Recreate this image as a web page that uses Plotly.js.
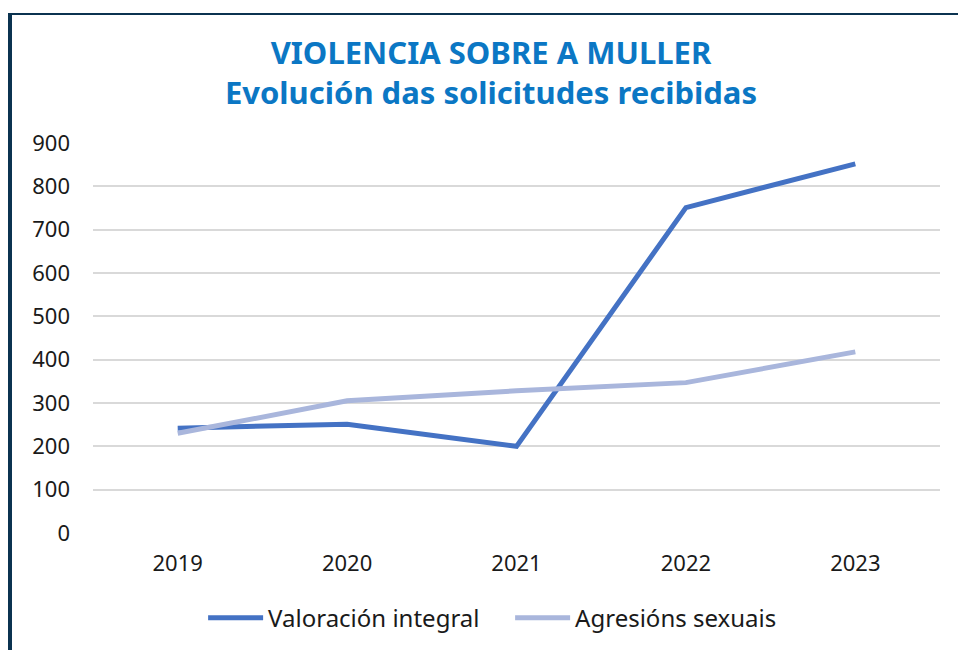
<!DOCTYPE html>
<html>
<head>
<meta charset="utf-8">
<script src="https://cdn.plot.ly/plotly-3.0.1.min.js"></script>
<style>
  html, body { margin: 0; padding: 0; background: #ffffff; }
  #wrap { position: relative; width: 958px; height: 650px; overflow: hidden; }
  #chart { position: absolute; left: 0; top: 0; width: 958px; height: 650px; }
  #frame { position: absolute; left: 8px; top: 13px; width: 960px; height: 660px;
           border-left: 4px solid #0b3350; border-top: 2px solid #0b3350; pointer-events: none; }
</style>
</head>
<body>
<div id="wrap">
  <div id="chart"></div>
  <div id="frame"></div>
</div>
<script>
const years = ['2019', '2020', '2021', '2022', '2023'];
const valoracionIntegral = [242, 251, 200, 751, 852];
const agresionsSexuais = [230, 305, 328, 347, 418];
const yTicks = [0, 100, 200, 300, 400, 500, 600, 700, 800, 900];

const traces = [
  {
    x: years, y: valoracionIntegral, name: 'Valoración integral',
    type: 'scatter', mode: 'lines',
    line: { color: '#4472C4', width: 5 }
  },
  {
    x: years, y: agresionsSexuais, name: 'Agresións sexuais',
    type: 'scatter', mode: 'lines',
    line: { color: '#A9B6DC', width: 5 }
  }
];

const layout = {
  width: 958, height: 650,
  margin: { l: 93, r: 18, t: 143, b: 117 },
  paper_bgcolor: '#ffffff', plot_bgcolor: '#ffffff',
  font: { family: 'Noto Sans, sans-serif', color: '#1a1a1a', size: 22 },
  title: {
    text: 'VIOLENCIA SOBRE A MULLER<br>Evolución das solicitudes recibidas',
    font: { family: 'Noto Sans, sans-serif', size: 31, color: '#0B77C4', weight: 'bold' },
    x: 0.5125, xanchor: 'center', y: 0.9015, yanchor: 'middle', yref: 'container', xref: 'container'
  },
  xaxis: {
    type: 'category', range: [-0.5, 4.5],
    showgrid: false, zeroline: false, showline: false, ticks: '',
    tickfont: { size: 22, color: '#1a1a1a' },
    ticklabelstandoff: 15, fixedrange: true
  },
  yaxis: {
    range: [0, 900], tickvals: yTicks, ticktext: yTicks.map(String),
    showgrid: true, gridcolor: '#d9d9d9', gridwidth: 2,
    zeroline: false, showline: false, ticks: '',
    tickfont: { size: 22, color: '#1a1a1a' },
    ticklabelstandoff: 22, fixedrange: true
  },
  showlegend: true,
  legend: {
    orientation: 'h', x: 0.13, xanchor: 'left',
    yref: 'container', y: 0.0838, yanchor: 'top',
    font: { size: 24, color: '#1a1a1a' }, itemwidth: 55, traceorder: 'normal',
    entrywidth: 237, entrywidthmode: 'pixels'
  }
};

Plotly.newPlot('chart', traces, layout, { displayModeBar: false, staticPlot: true });
</script>
</body>
</html>
